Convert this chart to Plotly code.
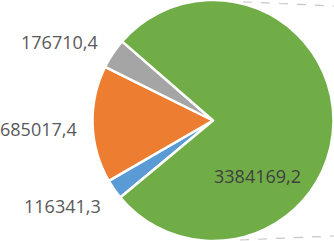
import plotly.graph_objects as go

categories = ["A", "B", "C", "D"]
values = [116341.3, 685017.4, 176710.4, 3384169.2]
colors = ["#5B9BD5", "#ED7D31", "#A5A5A5", "#70AD47"]

W, H = 334, 241

def fmt(v):
    return f"{v:.1f}".replace(".", ",")

fig = go.Figure()
fig.add_trace(go.Pie(
    labels=categories,
    values=values,
    sort=False,
    direction="clockwise",
    rotation=-129.7,
    marker=dict(colors=colors, line=dict(color="white", width=2.5)),
    textinfo="none",
    hoverinfo="label+value",
    showlegend=False,
    domain=dict(x=[92.5 / W, 333.5 / W], y=[0, 1]),
))

# label anchor positions (pixels) for each slice label
label_px = [(63, 206), (38, 128.5), (59, 42), (257, 176)]
label_colors = ["#595959", "#595959", "#595959", "#404040"]
for v, (px, py), c in zip(values, label_px, label_colors):
    fig.add_annotation(
        x=px / W, y=1 - py / H, xref="paper", yref="paper",
        text=fmt(v), showarrow=False,
        font=dict(family="Open Sans", size=18, color=c),
        xanchor="center", yanchor="middle",
    )

# pie-of-pie connector lines (decorative)
for (x0, y0, x1, y1) in [(225, 1, 334, 6), (240, 240, 334, 236)]:
    fig.add_shape(
        type="line", xref="paper", yref="paper",
        x0=x0 / W, y0=1 - y0 / H, x1=x1 / W, y1=1 - y1 / H,
        line=dict(color="#C8C8C8", width=1.2, dash="dash"),
        layer="below",
    )

fig.update_layout(
    width=W, height=H,
    margin=dict(l=0, r=0, t=0, b=0),
    paper_bgcolor="white",
    plot_bgcolor="white",
)

fig.write_html(
    "out.html",
    config={"displayModeBar": False},
    post_script="document.body.style.margin='0';document.body.style.overflow='hidden';",
)
